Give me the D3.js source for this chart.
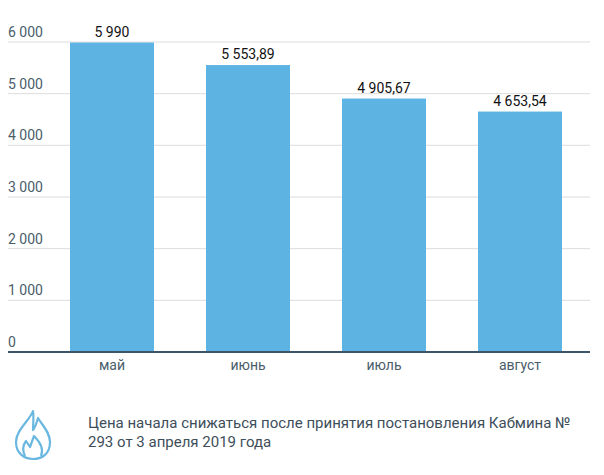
<!DOCTYPE html><html><head><meta charset="utf-8"><script src="https://d3js.org/d3.v7.min.js"></script>
<style>body{margin:0;background:#fff}text{font-family:Roboto,sans-serif}</style></head><body><svg width="604" height="475"></svg>
<script>
const categories=["май","июнь","июль","август"];
const values=[5990,5553.89,4905.67,4653.54];
const valueLabels=["5 990","5 553,89","4 905,67","4 653,54"];
const yTicks=[0,1000,2000,3000,4000,5000,6000];
const svg=d3.select("svg");
const y=d3.scaleLinear().domain([0,6000]).range([352,42]);
const x=d3.scaleBand().domain(categories).range([44,588]).paddingInner(136/84>0?52/136:0).paddingOuter(26/136);
const fmt=v=>d3.format(",")(v).replace(/,/g," ");
yTicks.forEach(t=>{
 if(t>0) svg.append("line").attr("x1",8).attr("x2",590).attr("y1",y(t)).attr("y2",y(t)).attr("stroke","#dcdcdc");
 svg.append("text").attr("x",8).attr("y",y(t)-5).attr("font-size",14).attr("fill","#4a5d6b").text(fmt(t));
});
svg.selectAll("rect").data(values).join("rect").attr("x",(d,i)=>x(categories[i])).attr("width",x.bandwidth())
 .attr("y",d=>y(d)).attr("height",d=>352-y(d)).attr("fill","#5db4e3");
svg.append("line").attr("x1",8).attr("x2",590).attr("y1",352).attr("y2",352).attr("stroke","#3d5566").attr("stroke-width",2);
values.forEach((v,i)=>svg.append("text").attr("x",x(categories[i])+x.bandwidth()/2).attr("y",y(v)-6).attr("text-anchor","middle").attr("font-size",14).attr("fill","#111").text(valueLabels[i]));
categories.forEach(c=>svg.append("text").attr("x",x(c)+x.bandwidth()/2).attr("y",370).attr("text-anchor","middle").attr("font-size",14).attr("fill","#4a5d6b").text(c));
svg.append("text").attr("x",88).attr("y",428).attr("font-size",15).attr("fill","#3d4e5a").text("Цена начала снижаться после принятия постановления Кабмина №");
svg.append("text").attr("x",88).attr("y",447).attr("font-size",15).attr("fill","#3d4e5a").text("293 от 3 апреля 2019 года");
const g=svg.append("g").attr("fill","none").attr("stroke","#6ab8e0").attr("stroke-width",2.2).attr("stroke-linejoin","round");
g.append("path").attr("d","M33,411 C30,420 16,430 16,442 C16,453 24,459 33,459 C43,459 50,453 50,442 C50,432 42,425 38,418 C36,425 35,428 33,430 C33,424 34,417 33,411 Z");
g.append("path").attr("d","M25,456 C22,450 23,445 26,441 L30,447 L34,436 C40,442 44,449 41,456");
</script></body></html>
